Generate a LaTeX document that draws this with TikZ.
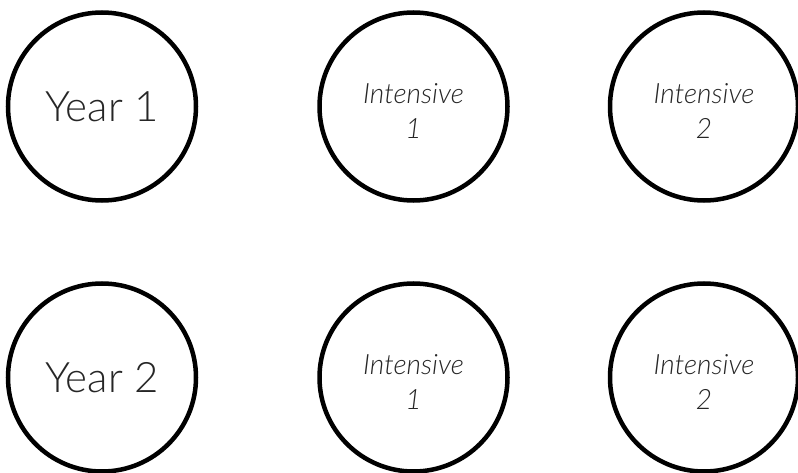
\documentclass[tikz,border=0pt]{standalone}
\usepackage{fontspec}
\IfFontExistsTF{Lato Light}{%
  \setmainfont{Lato Light}[ItalicFont={Lato Light Italic}]%
}{%
  \setmainfont{Lato}%
}
\begin{document}
\begin{tikzpicture}[x=1pt,y=1pt,
  ring/.style={circle,draw=black,line width=4.5pt,minimum size=188pt,inner sep=0pt,align=center,text=black!85},
  yeartxt/.style={font=\fontsize{42}{50}\selectfont},
  inttxt/.style={align=center,inner sep=0pt,text=black!85,font=\fontsize{28}{35}\selectfont\itshape}]
\useasboundingbox (0,0) rectangle (798,472);
\clip (0,0) rectangle (798,472);
\node[ring,yeartxt] (y1) at (102,365.5) {Year 1};
\node[ring] (i11) at (413.5,365.5) {};
\node[ring] (i12) at (704,365.5) {};
\node[ring,yeartxt] (y2) at (102,94.5) {Year 2};
\node[ring] (i21) at (413.5,94.5) {};
\node[ring] (i22) at (704,94.5) {};
\node[inttxt] (t11) at ([yshift=-5pt]i11.center) {Intensive\\1};
\node[inttxt] (t12) at ([yshift=-5pt]i12.center) {Intensive\\2};
\node[inttxt] (t21) at ([yshift=-5pt]i21.center) {Intensive\\1};
\node[inttxt] (t22) at ([yshift=-5pt]i22.center) {Intensive\\2};
\end{tikzpicture}
\end{document}
